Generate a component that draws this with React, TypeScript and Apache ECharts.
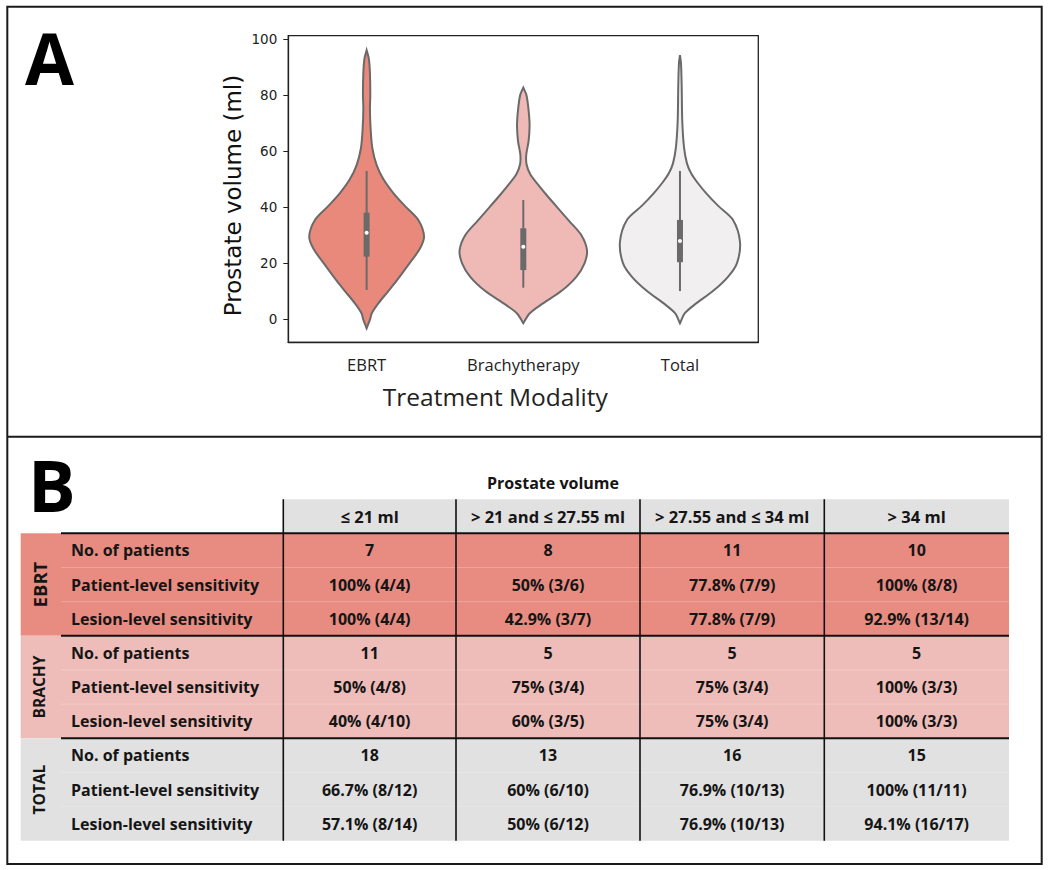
import React, { useEffect, useRef } from 'react';
import * as echarts from 'echarts';

// ---------- Panel A data ----------
const categories = ['EBRT', 'Brachytherapy', 'Total'];
const yTicks = [0, 20, 40, 60, 80, 100];

// Violin outlines: volume (ml) and half-width
// (as a fraction of half the category band)
const ebrtVolumes = [-3.3, 0, 2, 5.6, 10, 13.7, 20, 25, 29.4, 35.4, 40.5, 45, 50, 55, 61, 68, 75, 80, 88, 93, 96];
const ebrtWidths = [0, 0.045, 0.064, 0.149, 0.277, 0.383, 0.549, 0.677, 0.733, 0.66, 0.485, 0.341, 0.213, 0.128, 0.073, 0.051, 0.042, 0.047, 0.042, 0.028, 0];

const brachyVolumes = [-1.5, 2, 5.6, 10, 15.1, 20, 24.6, 30, 35, 40, 44.4, 48, 51.7, 55.2, 58.8, 63.6, 69.5, 75.5, 80.2, 82.6];
const brachyWidths = [0, 0.08, 0.251, 0.485, 0.677, 0.783, 0.813, 0.74, 0.587, 0.43, 0.294, 0.188, 0.089, 0.042, 0.038, 0.068, 0.08, 0.064, 0.038, 0];

const totalVolumes = [-1.5, 2, 5.6, 10, 15.1, 20, 27.6, 35.4, 40.5, 44.9, 48.5, 52, 55.6, 61.5, 71, 83, 91.3, 94.3];
const totalWidths = [0, 0.06, 0.208, 0.421, 0.613, 0.728, 0.766, 0.677, 0.485, 0.336, 0.23, 0.144, 0.089, 0.051, 0.029, 0.022, 0.013, 0];

// inner box plots
const whiskerLow = [10.4, 11.2, 10.0];
const quartile1 = [22.3, 17.5, 20.3];
const medians = [30.8, 25.8, 27.9];
const quartile3 = [38.0, 32.4, 35.4];
const whiskerHigh = [52.9, 42.5, 52.9];

// ---------- Panel B data ----------
const tableTitle = 'Prostate volume';
const volumeBins = ['≤ 21 ml', '> 21 and ≤ 27.55 ml', '> 27.55 and ≤ 34 ml', '> 34 ml'];
const groupNames = ['EBRT', 'BRACHY', 'TOTAL'];
const metricNames = ['No. of patients', 'Patient-level sensitivity', 'Lesion-level sensitivity'];

const ebrtPatients = ['7', '8', '11', '10'];
const ebrtPatientSens = ['100% (4/4)', '50% (3/6)', '77.8% (7/9)', '100% (8/8)'];
const ebrtLesionSens = ['100% (4/4)', '42.9% (3/7)', '77.8% (7/9)', '92.9% (13/14)'];

const brachyPatients = ['11', '5', '5', '5'];
const brachyPatientSens = ['50% (4/8)', '75% (3/4)', '75% (3/4)', '100% (3/3)'];
const brachyLesionSens = ['40% (4/10)', '60% (3/5)', '75% (3/4)', '100% (3/3)'];

const totalPatients = ['18', '13', '16', '15'];
const totalPatientSens = ['66.7% (8/12)', '60% (6/10)', '76.9% (10/13)', '100% (11/11)'];
const totalLesionSens = ['57.1% (8/14)', '50% (6/12)', '76.9% (10/13)', '94.1% (16/17)'];

const groupRows = [
  [ebrtPatients, ebrtPatientSens, ebrtLesionSens],
  [brachyPatients, brachyPatientSens, brachyLesionSens],
  [totalPatients, totalPatientSens, totalLesionSens],
];

// ---------- styles ----------
const violinFills = ['#e8897b', '#efbab5', '#f1efef'];
const groupFills = ['#e88c82', '#efbdb9', '#e1e1e1'];
const headerFill = '#e1e1e1';
const ink = '#151515';
const tableFont = 'Open Sans';
const tableSize = 16;
const headerSize = 16.5;

const outlines = [
  [ebrtVolumes, ebrtWidths],
  [brachyVolumes, brachyWidths],
  [totalVolumes, totalWidths],
];

function renderViolin(params: any, api: any) {
  const idx = api.value(0);
  const [vols, widths] = outlines[idx];
  const center = api.coord([idx, 0])[0];
  const halfBand = api.size([1, 0])[0] / 2;
  const right: number[][] = [];
  const left: number[][] = [];
  for (let i = 0; i < vols.length; i++) {
    const y = api.coord([idx, vols[i]])[1];
    right.push([center + widths[i] * halfBand, y]);
    left.push([center - widths[i] * halfBand, y]);
  }
  const pts = right.concat(left.reverse());
  const yLow = api.coord([idx, whiskerLow[idx]])[1];
  const yHigh = api.coord([idx, whiskerHigh[idx]])[1];
  const yQ1 = api.coord([idx, quartile1[idx]])[1];
  const yQ3 = api.coord([idx, quartile3[idx]])[1];
  const yMed = api.coord([idx, medians[idx]])[1];
  return {
    type: 'group',
    children: [
      {
        type: 'polygon',
        shape: { points: pts, smooth: 0.3 },
        style: { fill: violinFills[idx], stroke: '#6a6a6a', lineWidth: 2 },
      },
      {
        type: 'line',
        shape: { x1: center, y1: yLow, x2: center, y2: yHigh },
        style: { stroke: '#6a6a6a', lineWidth: 2 },
      },
      {
        type: 'rect',
        shape: { x: center - 3, y: yQ3, width: 6, height: yQ1 - yQ3 },
        style: { fill: '#6a6a6a' },
      },
      {
        type: 'circle',
        shape: { cx: center, cy: yMed, r: 2 },
        style: { fill: '#ffffff' },
      },
    ],
  };
}

function buildGraphics() {
  const g: any[] = [];
  // table geometry
  const colX = [283.3, 456, 640, 824.3, 1009];
  const headerTop = 499.3;
  const bodyTop = 533.3;
  const groupH = 102.5;
  const rowH = groupH / 3;
  const bandLeft = 20.7;
  const labelLeft = 61;

  // header background
  g.push({
    type: 'rect',
    shape: { x: colX[0], y: headerTop, width: colX[4] - colX[0], height: bodyTop - headerTop },
    style: { fill: headerFill },
  });
  // group bands
  groupNames.forEach((name, gi) => {
    const top = bodyTop + gi * groupH;
    g.push({
      type: 'rect',
      shape: { x: bandLeft, y: top, width: colX[4] - bandLeft, height: groupH },
      style: { fill: groupFills[gi] },
    });
    for (let r = 1; r < 3; r++) {
      g.push({
        type: 'line',
        shape: { x1: labelLeft, y1: top + r * rowH, x2: colX[4], y2: top + r * rowH },
        style: { stroke: 'rgba(255,255,255,0.22)', lineWidth: 1 },
      });
    }
    g.push({
      type: 'text',
      x: 39,
      y: top + groupH / 2,
      rotation: Math.PI / 2,
      style: {
        text: name,
        fill: ink,
        fontSize: gi === 0 ? 18.5 : 15.5,
        fontWeight: 'bold',
        fontFamily: tableFont,
        align: 'center',
        verticalAlign: 'middle',
      },
    });
    metricNames.forEach((m, ri) => {
      const cy = top + (ri + 0.5) * rowH;
      g.push({
        type: 'text',
        x: 71,
        y: cy,
        style: { text: m, fill: ink, fontSize: tableSize, fontWeight: 'bold', fontFamily: tableFont, align: 'left', verticalAlign: 'middle' },
      });
      groupRows[gi][ri].forEach((val, ci) => {
        g.push({
          type: 'text',
          x: (colX[ci] + colX[ci + 1]) / 2,
          y: cy,
          style: { text: val, fill: ink, fontSize: tableSize, fontWeight: 'bold', fontFamily: tableFont, align: 'center', verticalAlign: 'middle' },
        });
      });
    });
  });
  // header labels
  volumeBins.forEach((b, ci) => {
    g.push({
      type: 'text',
      x: (colX[ci] + colX[ci + 1]) / 2,
      y: (headerTop + bodyTop) / 2,
      style: { text: b, fill: ink, fontSize: headerSize, fontWeight: 'bold', fontFamily: tableFont, align: 'center', verticalAlign: 'middle' },
    });
  });
  g.push({
    type: 'text',
    x: 553,
    y: 482.5,
    style: { text: tableTitle, fill: ink, fontSize: tableSize, fontWeight: 'bold', fontFamily: tableFont, align: 'center', verticalAlign: 'middle' },
  });
  // black horizontal rules
  for (let gi = 0; gi < 3; gi++) {
    const y = bodyTop + gi * groupH;
    g.push({
      type: 'line',
      shape: { x1: labelLeft, y1: y, x2: colX[4], y2: y },
      style: { stroke: '#111', lineWidth: 2 },
    });
  }
  // vertical rules
  for (let ci = 0; ci < 4; ci++) {
    g.push({
      type: 'line',
      shape: { x1: colX[ci], y1: headerTop, x2: colX[ci], y2: bodyTop + 3 * groupH },
      style: { stroke: '#111', lineWidth: 1.6 },
    });
  }
  // panel letters
  g.push({
    type: 'text', x: 25, y: 57.5,
    style: { text: 'A', fill: '#000', fontSize: 71, fontWeight: 'bold', fontFamily: 'Open Sans', align: 'left', verticalAlign: 'middle' },
  });
  g.push({
    type: 'text', x: 28, y: 484,
    style: { text: 'B', fill: '#000', fontSize: 71, fontWeight: 'bold', fontFamily: 'Open Sans', align: 'left', verticalAlign: 'middle' },
  });
  // frame and divider
  g.push({
    type: 'rect',
    shape: { x: 7.3, y: 6.7, width: 1034.4, height: 857.3 },
    style: { fill: 'none', stroke: '#1a1a1a', lineWidth: 2 },
  });
  g.push({
    type: 'line',
    shape: { x1: 7.3, y1: 436.7, x2: 1041.7, y2: 436.7 },
    style: { stroke: '#1a1a1a', lineWidth: 2 },
  });
  return g;
}

export default function App() {
  const ref = useRef<HTMLDivElement>(null);
  useEffect(() => {
    if (!ref.current) return;
    const chart = echarts.init(ref.current, null, { renderer: 'svg' });
    const axisColor = '#222';
    chart.setOption({
      animation: false,
      backgroundColor: '#ffffff',
      grid: {
        left: 288.3,
        top: 35.7,
        width: 470,
        height: 306.6,
        show: true,
        borderColor: axisColor,
        borderWidth: 1.3,
        backgroundColor: 'transparent',
      },
      xAxis: {
        type: 'category',
        data: categories,
        axisLine: { onZero: false, lineStyle: { color: axisColor, width: 1.3 } },
        axisTick: { alignWithLabel: true, length: 5, lineStyle: { color: axisColor } },
        axisLabel: { color: axisColor, fontSize: 16.5, fontFamily: 'Open Sans', margin: 14 },
        splitLine: { show: false },
        name: 'Treatment Modality',
        nameLocation: 'middle',
        nameGap: 42,
        nameTextStyle: { color: axisColor, fontSize: 24.5, fontFamily: 'Open Sans', padding: [0, 56, 0, 0] },
      },
      yAxis: {
        type: 'value',
        min: -8.3,
        max: 101.2,
        axisLine: { show: true, lineStyle: { color: axisColor, width: 1.3 } },
        axisTick: { show: true, length: 5, customValues: yTicks, lineStyle: { color: axisColor } },
        axisLabel: { customValues: yTicks, color: axisColor, fontSize: 13.5, fontFamily: 'DejaVu Sans', margin: 11 },
        splitLine: { show: false },
        name: 'Prostate volume (ml)',
        nameLocation: 'middle',
        nameGap: 44,
        nameTextStyle: { color: '#111', fontSize: 23, fontFamily: 'DejaVu Sans', padding: [0, 13, 0, 0] },
      },
      series: [
        {
          type: 'custom',
          renderItem: renderViolin,
          data: categories.map((c, i) => [i, medians[i]]),
          encode: { x: 0, y: 1 },
          clip: false,
        },
      ],
      graphic: buildGraphics(),
    });
    return () => chart.dispose();
  }, []);
  return (
    <div
      ref={ref}
      style={{ position: 'absolute', left: 0, top: 0, width: 1050, height: 870 }}
    />
  );
}
